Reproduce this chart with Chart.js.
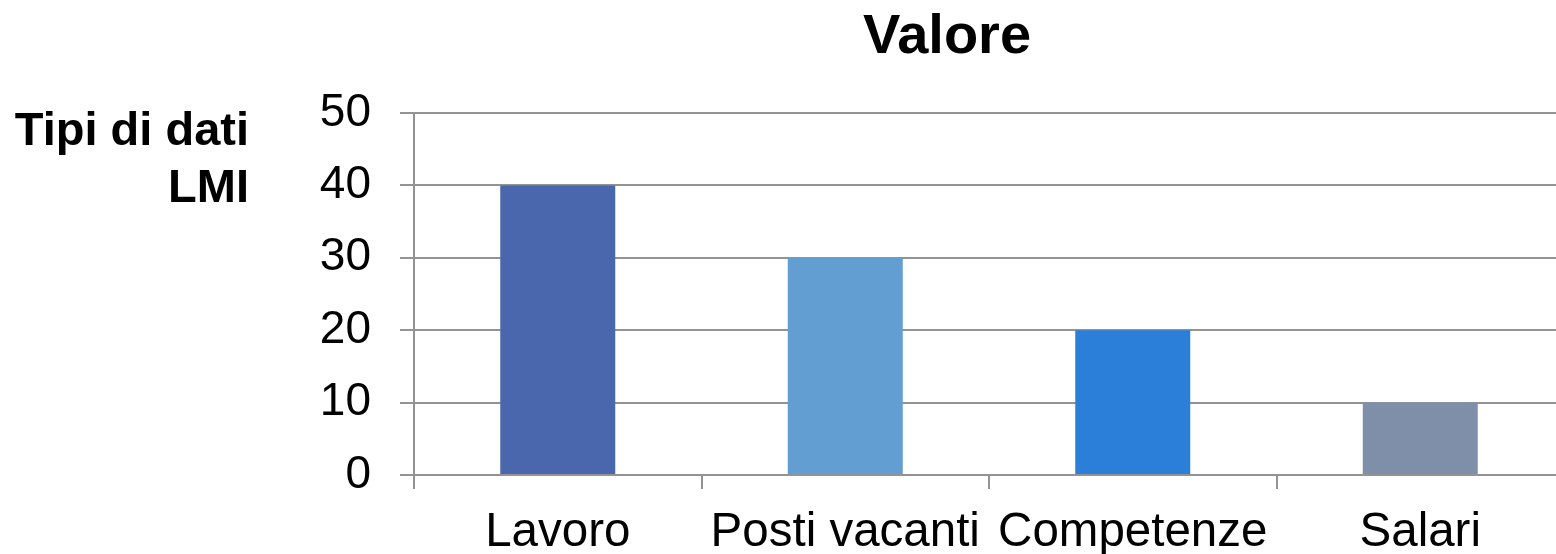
<!DOCTYPE html>
<html>
<head>
<meta charset="utf-8">
<script src="https://cdn.jsdelivr.net/npm/chart.js@4"></script>
<style>
  html, body { margin: 0; padding: 0; background: #fff; overflow: hidden; }
  .wrap { position: relative; width: 1580px; height: 554px; }
</style>
</head>
<body>
<div class="wrap"><canvas id="lmiChart"></canvas></div>
<script>
// Dati del grafico
const categories = ['Lavoro', 'Posti vacanti', 'Competenze', 'Salari'];
const values = [40, 30, 20, 10];
const barColors = ['#4a67ae', '#629ed1', '#2b7fd8', '#7f8fa9'];
const yTicks = [0, 10, 20, 30, 40, 50];
const chartTitle = 'Valore';
const yTitleLines = ['Tipi di dati', 'LMI'];

const FONT = "'Liberation Sans', Arial, sans-serif";
const GRID = '#939393';

// Titolo e titolo asse Y disegnati in orizzontale
const extraText = {
    id: 'extraText',
    afterDraw(chart) {
        const c = chart.ctx;
        c.save();
        c.fillStyle = '#000';
        c.font = 'bold 56px ' + FONT;
        c.textAlign = 'center';
        c.textBaseline = 'alphabetic';
        c.fillText(chartTitle, 947, 53);
        c.font = 'bold 47px ' + FONT;
        c.textAlign = 'right';
        yTitleLines.forEach((line, i) => c.fillText(line, 249, 145 + i * 57));
        c.restore();
    }
};

const ctx = document.getElementById('lmiChart').getContext('2d');
const lmiChart = new Chart(ctx, {
    type: 'bar',
    data: {
        labels: categories,
        datasets: [{
            label: chartTitle,
            data: values,
            backgroundColor: barColors,
            borderWidth: 0,
            categoryPercentage: 1,
            barPercentage: 0.4
        }]
    },
    options: {
        responsive: true,
        maintainAspectRatio: false,
        animation: false,
        layout: { padding: { top: 113, right: 16, left: 0, bottom: 0 } },
        plugins: {
            legend: { display: false },
            title: { display: false },
            tooltip: { enabled: false }
        },
        scales: {
            y: {
                min: 0,
                max: 50,
                afterBuildTicks(scale) {
                    scale.ticks = yTicks.map(v => ({ value: v }));
                },
                afterFit(scale) { scale.width = 414; },
                grid: {
                    color: GRID,
                    lineWidth: 2,
                    drawTicks: true,
                    tickLength: 14
                },
                border: { color: GRID, width: 2 },
                ticks: {
                    color: '#000',
                    padding: 29,
                    font: { family: FONT, size: 46 }
                }
            },
            x: {
                offset: true,
                afterFit(scale) { scale.height = 79; },
                grid: {
                    offset: true,
                    drawOnChartArea: false,
                    drawTicks: true,
                    tickLength: 14,
                    color: GRID,
                    lineWidth: 2
                },
                border: { color: GRID, width: 2 },
                ticks: {
                    color: '#000',
                    padding: 15,
                    maxRotation: 0,
                    autoSkip: false,
                    font: { family: FONT, size: 47.5 }
                }
            }
        }
    },
    plugins: [extraText]
});
</script>
</body>
</html>
